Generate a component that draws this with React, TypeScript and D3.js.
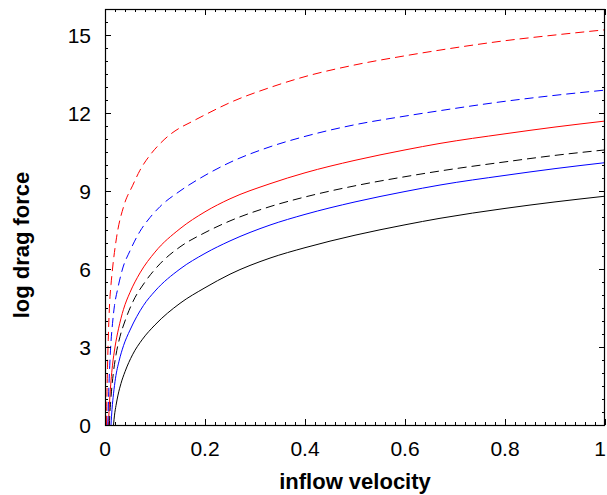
import React, { useRef, useEffect } from "react";
import * as d3 from "d3";

// inflow velocity / log drag force pairs
const blackSolid: [number, number][] = [
  [0.017, 0], [0.019, 0.38], [0.022, 0.75], [0.026, 1.15], [0.032, 1.6], [0.04, 2.05],
  [0.055, 2.7], [0.075, 3.3], [0.1, 3.85], [0.15, 4.68], [0.2, 5.28], [0.25, 5.8],
  [0.33, 6.42], [0.4, 6.82], [0.5, 7.3], [0.6, 7.7], [0.67, 7.95], [0.8, 8.33],
  [0.9, 8.58], [1, 8.8],
];
const blueSolid: [number, number][] = [
  [0.012, 0], [0.014, 0.6], [0.017, 1.2], [0.021, 1.8], [0.028, 2.45], [0.037, 3.05],
  [0.05, 3.65], [0.077, 4.6], [0.1, 5.15], [0.15, 6.0], [0.2, 6.6], [0.25, 7.08],
  [0.33, 7.69], [0.4, 8.1], [0.5, 8.58], [0.6, 8.98], [0.67, 9.23], [0.8, 9.6],
  [0.9, 9.86], [1, 10.09],
];
const redSolid: [number, number][] = [
  [0.007, 0], [0.008, 0.5], [0.0095, 1.0], [0.012, 1.7], [0.015, 2.3], [0.02, 3.0],
  [0.027, 3.7], [0.037, 4.45], [0.05, 5.1], [0.07, 5.85], [0.1, 6.65], [0.15, 7.55],
  [0.2, 8.2], [0.25, 8.7], [0.33, 9.28], [0.4, 9.7], [0.5, 10.18], [0.6, 10.58],
  [0.67, 10.83], [0.8, 11.2], [0.9, 11.46], [1, 11.69],
];
const blackDashed: [number, number][] = [
  [0.0088, 0], [0.0095, 0.35], [0.011, 0.8], [0.013, 1.3], [0.017, 2.05], [0.022, 2.7],
  [0.03, 3.4], [0.04, 4.0], [0.056, 4.75], [0.08, 5.5], [0.11, 6.2], [0.15, 6.85],
  [0.2, 7.4], [0.25, 7.85], [0.33, 8.4], [0.4, 8.77], [0.5, 9.2], [0.6, 9.55],
  [0.67, 9.77], [0.8, 10.12], [0.9, 10.37], [1, 10.58],
];
const blueDashed: [number, number][] = [
  [0.0055, 0], [0.006, 0.3], [0.0075, 1.3], [0.0095, 2.3], [0.012, 3.2], [0.015, 3.9],
  [0.019, 4.6], [0.025, 5.2], [0.035, 6.0], [0.05, 6.7], [0.07, 7.45], [0.09, 7.98],
  [0.11, 8.4], [0.15, 9.0], [0.2, 9.6], [0.25, 10.1], [0.33, 10.7], [0.4, 11.1],
  [0.5, 11.55], [0.6, 11.88], [0.67, 12.09], [0.8, 12.45], [0.9, 12.68], [1, 12.88],
];
const redDashed: [number, number][] = [
  [0.003, 0], [0.0035, 0.7], [0.004, 1.3], [0.005, 2.2], [0.0065, 3.3], [0.0093, 4.7],
  [0.012, 5.4], [0.015, 6.0], [0.023, 7.2], [0.038, 8.45], [0.055, 9.2], [0.07, 9.8],
  [0.09, 10.38], [0.11, 10.82], [0.13, 11.17], [0.15, 11.43], [0.17, 11.63], [0.2, 11.93],
  [0.25, 12.4], [0.33, 12.98], [0.4, 13.4], [0.5, 13.85], [0.6, 14.2], [0.67, 14.42],
  [0.8, 14.78], [0.9, 15.0], [1, 15.2],
];

const series = [
  { data: blackSolid, color: "#000000", dash: null },
  { data: blueSolid, color: "#0000ff", dash: null },
  { data: redSolid, color: "#ff0000", dash: null },
  { data: blackDashed, color: "#000000", dash: "9,5" },
  { data: blueDashed, color: "#0000ff", dash: "9,5" },
  { data: redDashed, color: "#ff0000", dash: "9,5" },
];

const xTicks = [0, 0.2, 0.4, 0.6, 0.8, 1];
const yTicks = [0, 3, 6, 9, 12, 15];

function App() {
  const svgRef = useRef<SVGSVGElement>(null);

  useEffect(() => {
    const W = 607, H = 495;
    const margin = { top: 9, right: 2, bottom: 70, left: 105 };
    const width = W - margin.left - margin.right;
    const height = H - margin.top - margin.bottom;
    const font = "'Liberation Sans', Arial, Helvetica, sans-serif";

    const root = d3.select(svgRef.current).attr("width", W).attr("height", H);
    root.selectAll("*").remove();
    const svg = root.append("g").attr("transform", `translate(${margin.left},${margin.top})`);

    const x = d3.scaleLinear().domain([0, 1]).range([0, width]);
    const y = d3.scaleLinear().domain([0, 16]).range([height, 0]);

    svg.append("clipPath").attr("id", "plotclip")
      .append("rect").attr("width", width).attr("height", height);

    // curves
    const line = d3.line<[number, number]>()
      .x((d) => x(d[0]))
      .y((d) => y(d[1]))
      .curve(d3.curveMonotoneX);
    series.forEach((s) => {
      svg.append("path")
        .datum(s.data)
        .attr("clip-path", "url(#plotclip)")
        .attr("d", line)
        .attr("fill", "none")
        .attr("stroke", s.color)
        .attr("stroke-width", 1)
        .attr("stroke-dasharray", s.dash);
    });

    // ticks, inward and mirrored on all four sides
    const xMinor = d3.range(0, 1.0001, 0.02);
    const yMinor = d3.range(0, 16.0001, 0.5);
    const tk = svg.append("g").attr("stroke", "#000").attr("stroke-width", 1);
    xMinor.forEach((v) => {
      const major = xTicks.some((t) => Math.abs(t - v) < 1e-6);
      const len = major ? 6 : 3;
      const px = Math.round(x(v)) + 0.5;
      tk.append("line").attr("x1", px).attr("x2", px).attr("y1", height).attr("y2", height - len);
      tk.append("line").attr("x1", px).attr("x2", px).attr("y1", 0).attr("y2", len);
    });
    yMinor.forEach((v) => {
      const major = yTicks.some((t) => Math.abs(t - v) < 1e-6);
      const len = major ? 6 : 3;
      const py = Math.round(y(v)) + 0.5;
      tk.append("line").attr("y1", py).attr("y2", py).attr("x1", 0).attr("x2", len);
      tk.append("line").attr("y1", py).attr("y2", py).attr("x1", width).attr("x2", width - len);
    });

    // frame
    svg.append("rect")
      .attr("x", 0.5).attr("y", 0.5)
      .attr("width", width - 1).attr("height", height)
      .attr("fill", "none").attr("stroke", "#000").attr("stroke-width", 1.2);

    // tick labels (last one kept inside the page)
    svg.append("g").selectAll("text").data(xTicks).join("text")
      .attr("x", (d) => (d === 1 ? W - margin.left - 1 : x(d)))
      .attr("y", height + 31)
      .attr("text-anchor", (d) => (d === 1 ? "end" : "middle"))
      .style("font-family", font).style("font-size", "21px")
      .text((d) => d3.format("~g")(d));
    svg.append("g").selectAll("text").data(yTicks).join("text")
      .attr("x", -14)
      .attr("y", (d) => y(d))
      .attr("dy", "0.36em")
      .attr("text-anchor", "end")
      .style("font-family", font).style("font-size", "21px")
      .text((d) => d);

    // axis titles
    svg.append("text")
      .attr("x", width / 2)
      .attr("y", height + 64)
      .attr("text-anchor", "middle")
      .style("font-family", font).style("font-size", "22px").style("font-weight", "bold")
      .text("inflow velocity");
    svg.append("text")
      .attr("transform", `translate(${29 - margin.left},${245 - margin.top}) rotate(-90)`)
      .attr("text-anchor", "middle")
      .style("font-family", font).style("font-size", "22px").style("font-weight", "bold")
      .text("log drag force");
  }, []);

  return (
    <div>
      <svg ref={svgRef} style={{ position: "absolute", left: 0, top: 0, background: "#fff" }} />
    </div>
  );
}

export default App;
